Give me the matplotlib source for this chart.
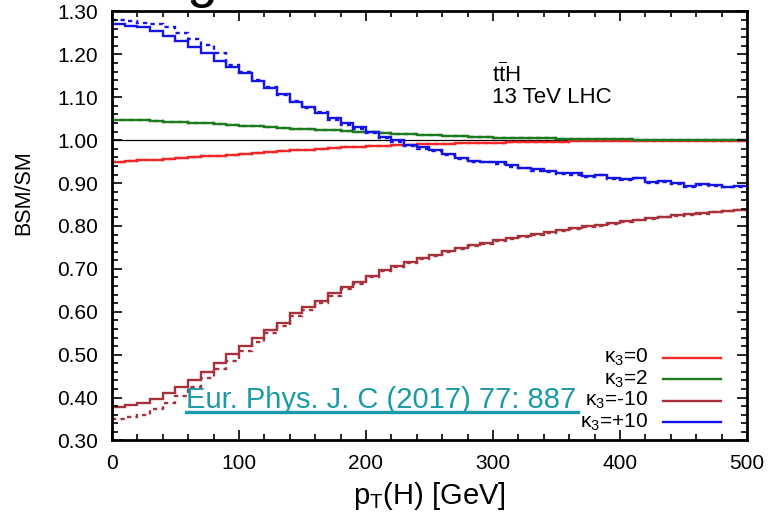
import numpy as np
import matplotlib
matplotlib.use("Agg")
import matplotlib.pyplot as plt
from matplotlib.lines import Line2D

plt.rcParams['font.family'] = ['Liberation Sans', 'DejaVu Sans']
plt.rcParams['mathtext.fontset'] = 'custom'
plt.rcParams['mathtext.rm'] = 'Liberation Sans'
plt.rcParams['mathtext.it'] = 'Liberation Sans:italic'

# pT(H) bins, 10 GeV wide
bin_edges = np.linspace(0, 500, 51)

# kappa3 = 0
red_solid = [0.950, 0.951, 0.953, 0.954, 0.956, 0.958, 0.960, 0.962, 0.964, 0.966,
             0.968, 0.970, 0.972, 0.974, 0.976, 0.978, 0.980, 0.982, 0.983, 0.985,
             0.986, 0.987, 0.988, 0.989, 0.990, 0.991, 0.992, 0.993, 0.993, 0.994,
             0.994, 0.995, 0.995, 0.996, 0.996, 0.996, 0.997, 0.997, 0.997, 0.997,
             0.998, 0.998, 0.998, 0.998, 0.998, 0.999, 0.999, 0.999, 0.999, 0.999]
red_dotted = red_solid

# kappa3 = 2
green_solid = [1.048, 1.047, 1.046, 1.045, 1.043, 1.042, 1.040, 1.039, 1.037, 1.035,
               1.034, 1.032, 1.031, 1.029, 1.027, 1.026, 1.024, 1.023, 1.021, 1.020,
               1.018, 1.017, 1.015, 1.014, 1.012, 1.011, 1.010, 1.009, 1.008, 1.007,
               1.006, 1.006, 1.005, 1.004, 1.004, 1.003, 1.003, 1.003, 1.002, 1.002,
               1.002, 1.001, 1.001, 1.001, 1.001, 1.001, 1.000, 1.000, 1.000, 1.000]
green_dotted = green_solid

# kappa3 = -10
brown_solid = [0.377, 0.383, 0.387, 0.396, 0.410, 0.424, 0.441, 0.460, 0.481, 0.501,
               0.520, 0.538, 0.558, 0.575, 0.597, 0.610, 0.626, 0.643, 0.657, 0.669,
               0.683, 0.697, 0.707, 0.716, 0.725, 0.733, 0.741, 0.748, 0.755, 0.761,
               0.767, 0.771, 0.776, 0.781, 0.786, 0.790, 0.795, 0.799, 0.803, 0.807,
               0.811, 0.815, 0.818, 0.821, 0.825, 0.828, 0.831, 0.833, 0.836, 0.838]
brown_dotted = [0.350, 0.355, 0.359, 0.373, 0.387, 0.404, 0.424, 0.445, 0.466, 0.485,
                0.509, 0.529, 0.550, 0.566, 0.589, 0.604, 0.620, 0.637, 0.652, 0.665,
                0.680, 0.694, 0.705, 0.714, 0.723, 0.731, 0.739, 0.746, 0.753, 0.759,
                0.765, 0.769, 0.774, 0.779, 0.784, 0.788, 0.793, 0.797, 0.801, 0.805,
                0.809, 0.813, 0.816, 0.820, 0.823, 0.826, 0.829, 0.832, 0.835, 0.837]

# kappa3 = +10
blue_solid = [1.270, 1.266, 1.263, 1.255, 1.244, 1.231, 1.217, 1.203, 1.185, 1.171,
              1.156, 1.139, 1.121, 1.108, 1.090, 1.077, 1.063, 1.051, 1.039, 1.030,
              1.020, 1.008, 1.000, 0.989, 0.983, 0.977, 0.968, 0.959, 0.952, 0.950,
              0.948, 0.941, 0.936, 0.932, 0.927, 0.924, 0.923, 0.917, 0.920, 0.911,
              0.909, 0.913, 0.903, 0.904, 0.900, 0.893, 0.897, 0.895, 0.892, 0.893]
blue_dotted = [1.279, 1.278, 1.272, 1.271, 1.263, 1.251, 1.235, 1.222, 1.203, 1.176,
               1.158, 1.141, 1.123, 1.106, 1.092, 1.074, 1.065, 1.048, 1.036, 1.027,
               1.017, 1.005, 0.996, 0.986, 0.980, 0.974, 0.966, 0.957, 0.949, 0.948,
               0.945, 0.938, 0.934, 0.929, 0.925, 0.922, 0.920, 0.915, 0.918, 0.909,
               0.907, 0.911, 0.901, 0.902, 0.898, 0.891, 0.895, 0.893, 0.890, 0.891]

labels = ["κ$_3$=0", "κ$_3$=2", "κ$_3$=-10", "κ$_3$=+10"]
colors = ["#f02828", "#1e7a1e", "#a8323c", "#1414e6"]
solids = [red_solid, green_solid, brown_solid, blue_solid]
dotteds = [red_dotted, green_dotted, brown_dotted, blue_dotted]

fig = plt.figure(figsize=(7.69, 5.15), dpi=100)
ax = fig.add_axes([0.1456, 0.1447, 0.8258, 0.833])

ax.axhline(1.0, color="black", lw=0.9, zorder=1)
for s, d, c in zip(solids, dotteds, colors):
    ax.stairs(d, bin_edges, color=c, lw=1.7, linestyle=(0, (1.8, 1.8)), baseline=None)
    ax.stairs(s, bin_edges, color=c, lw=1.7, baseline=None)

ax.set_xlim(0, 500)
ax.set_ylim(0.30, 1.30)
ax.set_xticks(np.arange(0, 501, 100))
ax.set_xticks(np.arange(0, 501, 20), minor=True)
ax.set_yticks(np.arange(0.30, 1.301, 0.10))
ax.set_yticks(np.arange(0.30, 1.301, 0.02), minor=True)
ax.set_yticklabels([f"{v:.2f}" for v in np.arange(0.30, 1.301, 0.10)])
ax.tick_params(which="both", direction="in", top=True, right=True, labelsize=15, width=1.2)
ax.tick_params(which="major", length=7, pad=10)
ax.tick_params(which="minor", length=4)
for sp in ax.spines.values():
    sp.set_linewidth(2)

ax.set_xlabel(r"p$_\mathrm{T}$(H) [GeV]", fontsize=21, labelpad=5)
ax.set_ylabel("BSM/SM", fontsize=15.5)
ax.yaxis.set_label_coords(-0.122, 0.577)

ax.text(299, 1.152, r"t$\overline{\mathrm{t}}$H", fontsize=16, va="center", ha="left")
ax.text(299, 1.100, "13 TeV LHC", fontsize=16, va="center", ha="left")

# gnuplot style key: text right aligned, sample to the right
key_y = [0.193, 0.143, 0.093, 0.042]
for lab, c, yy in zip(labels, colors, key_y):
    ax.text(0.844, yy, lab, transform=ax.transAxes, fontsize=15, ha="right", va="center")
    ax.plot([0.868, 0.959], [yy, yy], transform=ax.transAxes, color=c, lw=1.7)

# reference link
fig.text(186 / 769, (515 - 408) / 515, "Eur. Phys. J. C (2017) 77: 887", color="#1b9aa8",
         fontsize=21, ha="left", va="baseline")
fig.add_artist(Line2D([186 / 769, 578 / 769], [(515 - 411.5) / 515] * 2, color="#1b9aa8", lw=2.4))

# bottom of the slide title above
fig.text(187 / 769, (515 + 4) / 515, "g", fontsize=40, ha="left", va="baseline")

fig.savefig("out.png", dpi=100)
